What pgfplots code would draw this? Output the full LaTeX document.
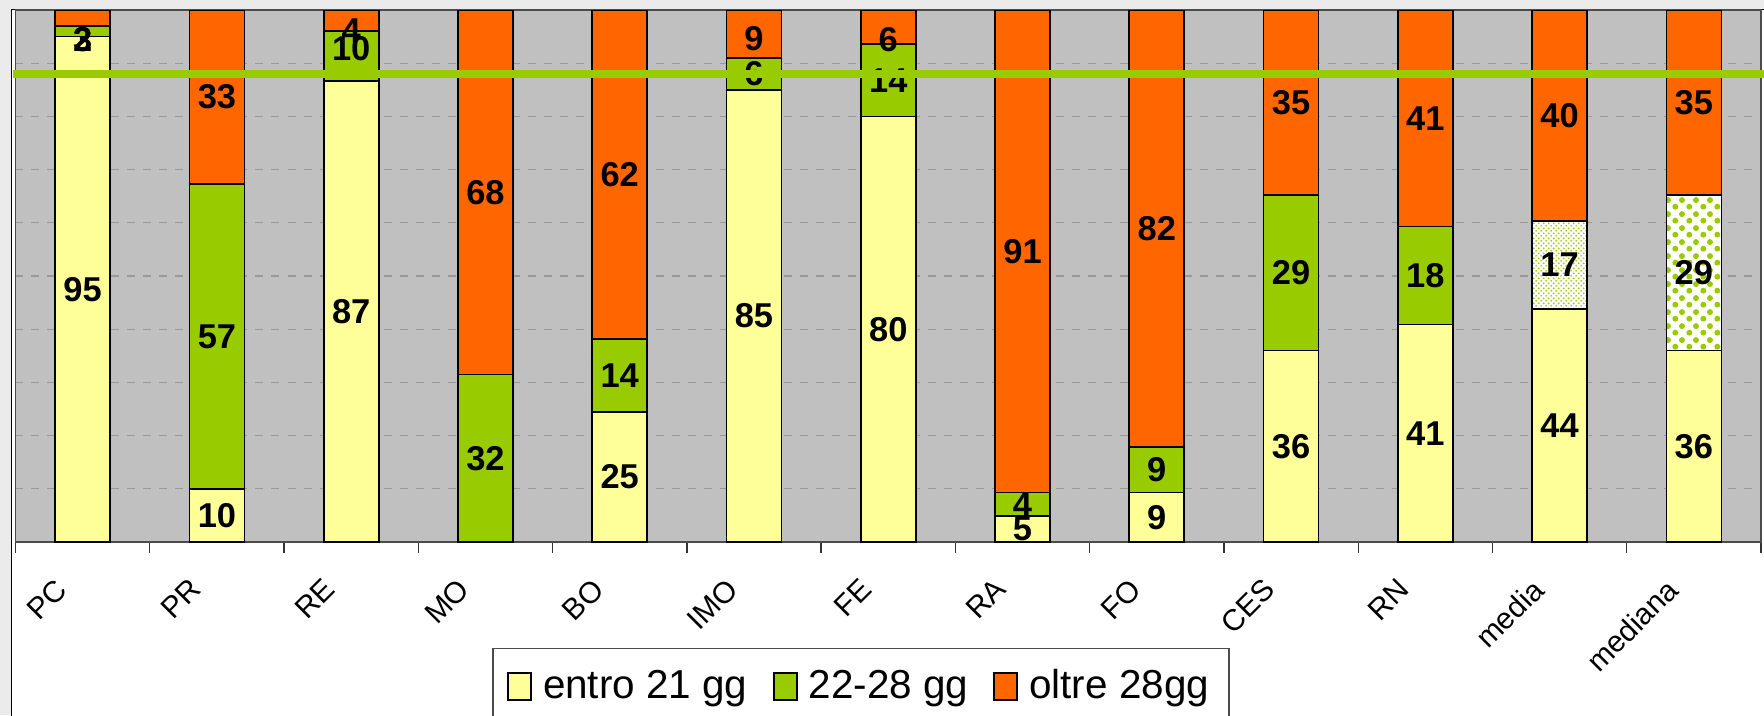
\documentclass[border=0pt]{standalone}
\usepackage{fontspec}
\setmainfont{Liberation Sans}
\usepackage{pgfplots}
\usepackage{pgfplotstable}
\pgfplotsset{compat=1.18}
\usetikzlibrary{patterns}
\definecolor{yel}{HTML}{FFFF99}
\definecolor{grn}{HTML}{99CC00}
\definecolor{org}{HTML}{FF6600}
\definecolor{bgc}{HTML}{C0C0C0}
\definecolor{bgout}{HTML}{EBEBEB}
\pgfdeclarepatternformonly{bubbles}{\pgfpointorigin}{\pgfpoint{4pt}{4pt}}{\pgfpoint{4pt}{4pt}}{%
  \pgfpathcircle{\pgfpoint{1pt}{1pt}}{0.9pt}%
  \pgfpathcircle{\pgfpoint{3pt}{3pt}}{0.9pt}%
  \pgfusepath{fill}}
\pgfdeclarepatternformonly{finedots}{\pgfpointorigin}{\pgfpoint{1.4pt}{1.4pt}}{\pgfpoint{1.4pt}{1.4pt}}{%
  \pgfpathcircle{\pgfpoint{0.35pt}{0.35pt}}{0.28pt}%
  \pgfpathcircle{\pgfpoint{1.05pt}{1.05pt}}{0.28pt}%
  \pgfusepath{fill}}
% a: entro 21 gg, b: 22-28 gg, p/q: 22-28 gg (media/mediana), c: oltre 28gg
% l*: labels, db/dc: label offsets (mm)
\pgfplotstableread{
x  a    la  b    lb  db    p    lp  q    lq  c    lc  dc
0  95   95  2    2   -0.8  0    {}  0    {}  3    3   -2.13
1  10   10  57.3 57  0     0    {}  0    {}  32.7 33  0
2  86.7 87  9.3  10  0.7   0    {}  0    {}  4    4   -0.96
3  0    {}  31.5 32  0     0    {}  0    {}  68.5 68  0
4  24.5 25  13.7 14  0     0    {}  0    {}  61.8 62  0
5  85   85  6    6   0     0    {}  0    {}  9    9   -0.45
6  80   80  13.6 14  0     0    {}  0    {}  6.4  6   -1.22
7  4.9  5   4.4  4   0     0    {}  0    {}  90.7 91  0
8  9.3  9   8.6  9   0     0    {}  0    {}  82.1 82  0
9  36   36  29.2 29  0     0    {}  0    {}  34.8 35  0
10 40.9 41  18.4 18  0     0    {}  0    {}  40.7 41  0
11 43.8 44  0    {}  0     16.5 17  0    {}  39.7 40  0
12 36   36  0    {}  0     0    {}  29.2 29  34.8 35  0
}\data
\pgfplotsset{stk/.style={draw=black, line width=0.5pt, nodes near coords, point meta=explicit symbolic},
  geom/.style={at={(1.55mm,17.3mm)}, anchor=south west, scale only axis, width=174.55mm, height=53.2mm, xmin=-0.5, xmax=12.5, ymin=0, ymax=100}}
\begin{document}
\begin{tikzpicture}
\useasboundingbox (0,0) rectangle (176.4mm,71.5mm);
\clip (0,0) rectangle (176.4mm,71.5mm);
\fill[bgout] (0,0) rectangle (176.4mm,71.5mm);
\fill[white] (1.17mm,0) rectangle (176.4mm,70.57mm);
\draw[black, line width=0.4pt] (1.17mm,-1mm) -- (1.17mm,70.57mm) -- (177mm,70.57mm);
\begin{axis}[
  geom,
  ybar stacked, bar width=5.5mm,
  axis background/.style={fill=bgc},
  axis line style={draw=black!70, line width=0.4pt},
  tick pos=left,
  xtick={-0.5,0.5,...,12.5},
  x tick label as interval,
  xticklabels={PC,PR,RE,MO,BO,IMO,FE,RA,FO,CES,RN,media,mediana},
  xticklabel style={inner sep=0pt, font=\fontsize{8.5}{10}\selectfont, xshift=-2.9mm, yshift=-2.3mm, rotate=45, anchor=north east},
  tick align=outside,
  major tick length=1.1mm,
  xtick style={draw=black!80, line width=0.4pt},
  ytick={10,20,...,90},
  yticklabels={},
  ytick style={draw=none},
  ymajorgrids,
  major grid style={draw=black!40, dash pattern=on 0.8mm off 0.8mm, line width=0.3pt},
  nodes near coords style={anchor=center, text=black, font=\fontsize{9.8}{11}\selectfont\bfseries, inner sep=0pt},
  legend columns=3,
  legend cell align=left,
  legend style={at={(0.273,-0.1983)}, anchor=north west, draw=black!70, line width=0.5pt, fill=white, font=\fontsize{11.5}{13.8}\selectfont, /tikz/every even column/.append style={column sep=1.9mm}, /tikz/every odd column/.append style={column sep=0.5mm}, inner xsep=1.4mm, inner ysep=1.5mm, nodes={inner sep=0.6mm, text=black}},
  legend image code/.code={\draw[#1, line width=0.6pt] (0mm,-1.3mm) rectangle (2.3mm,1.4mm);},
]
\addplot[stk, fill=yel] table[x=x,y=a,meta=la]{\data};
\addlegendentry{entro 21 gg}
\addplot[stk, fill=grn, visualization depends on={\thisrow{db}\as\dy}, every node near coord/.append style={yshift=\dy mm}] table[x=x,y=b,meta=lb]{\data};
\addlegendentry{22-28 gg}
\addplot[stk, forget plot, fill=white, postaction={pattern=finedots, pattern color=grn}] table[x=x,y=p,meta=lp]{\data};
\addplot[stk, forget plot, fill=white, postaction={pattern=bubbles, pattern color=grn}] table[x=x,y=q,meta=lq]{\data};
\addplot[stk, fill=org, visualization depends on={\thisrow{dc}\as\dy}, every node near coord/.append style={yshift=\dy mm}] table[x=x,y=c,meta=lc]{\data};
\addlegendentry{oltre 28gg}
\end{axis}
\begin{axis}[geom, hide axis, clip=false]
\addplot[draw=grn, line width=2.3pt, mark=none] coordinates {(-0.52,88) (12.55,88)};
\end{axis}
\end{tikzpicture}
\end{document}
